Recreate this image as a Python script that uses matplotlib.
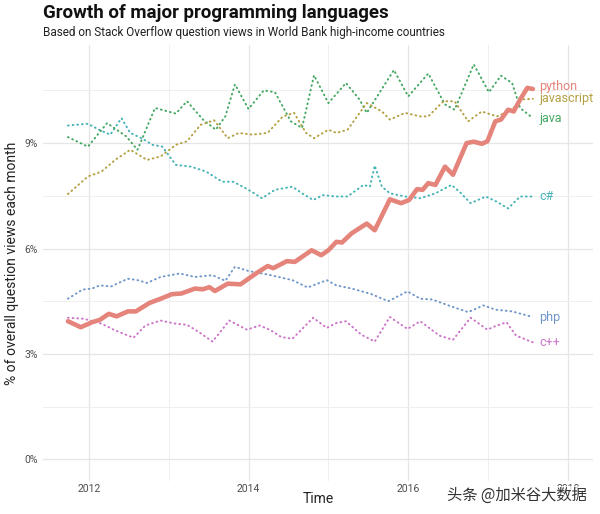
import matplotlib
matplotlib.use("Agg")
import matplotlib.pyplot as plt

# --- data (decimal year, % of question views) ---
python_t = [2011.74, 2011.90, 2012.04, 2012.14, 2012.25, 2012.35, 2012.49, 2012.59, 2012.76, 2012.90,
            2013.04, 2013.16, 2013.33, 2013.43, 2013.51, 2013.58, 2013.74, 2013.90, 2014.00, 2014.10,
            2014.24, 2014.31, 2014.48, 2014.58, 2014.79, 2014.91, 2015.00, 2015.10, 2015.17, 2015.29,
            2015.48, 2015.58, 2015.77, 2015.91, 2016.01, 2016.11, 2016.18, 2016.25, 2016.34, 2016.46,
            2016.56, 2016.73, 2016.82, 2016.92, 2016.99, 2017.09, 2017.16, 2017.25, 2017.32, 2017.40,
            2017.49, 2017.56]
python_v = [3.93, 3.76, 3.90, 3.97, 4.14, 4.07, 4.21, 4.21, 4.45, 4.57,
            4.70, 4.72, 4.86, 4.84, 4.90, 4.79, 5.00, 4.98, 5.14, 5.30,
            5.50, 5.44, 5.64, 5.62, 5.95, 5.81, 5.95, 6.19, 6.17, 6.43,
            6.71, 6.52, 7.40, 7.29, 7.38, 7.69, 7.67, 7.86, 7.81, 8.33,
            8.10, 9.00, 9.04, 8.98, 9.05, 9.62, 9.67, 9.95, 9.90, 10.24,
            10.57, 10.54]

javascript_t = [2011.74, 2011.99, 2012.16, 2012.33, 2012.52, 2012.73, 2012.90, 2013.09, 2013.23, 2013.40,
                2013.57, 2013.74, 2013.88, 2014.05, 2014.24, 2014.43, 2014.57, 2014.72, 2014.82, 2015.00,
                2015.10, 2015.24, 2015.48, 2015.67, 2015.77, 2015.96, 2016.15, 2016.25, 2016.44, 2016.58,
                2016.75, 2016.92, 2017.11, 2017.30, 2017.40, 2017.56]
javascript_v = [7.55, 8.05, 8.19, 8.52, 8.81, 8.52, 8.62, 8.95, 9.05, 9.52,
                9.65, 9.14, 9.29, 9.24, 9.29, 9.76, 9.86, 9.29, 9.14, 9.38,
                9.29, 9.38, 10.14, 9.90, 9.67, 9.86, 9.76, 9.76, 10.19, 10.19,
                9.62, 9.90, 9.76, 9.95, 10.24, 10.26]

java_t = [2011.74, 2011.99, 2012.23, 2012.47, 2012.61, 2012.83, 2013.09, 2013.23, 2013.43, 2013.59,
          2013.71, 2013.83, 2014.00, 2014.19, 2014.33, 2014.53, 2014.67, 2014.82, 2015.00, 2015.22,
          2015.39, 2015.48, 2015.82, 2016.00, 2016.25, 2016.46, 2016.58, 2016.82, 2017.01, 2017.16,
          2017.30, 2017.40, 2017.56]
java_v = [9.17, 8.90, 9.57, 9.19, 8.81, 10.00, 9.84, 10.19, 9.67, 9.38,
          9.76, 10.67, 9.97, 10.50, 10.45, 9.62, 9.43, 10.93, 10.14, 10.71,
          10.24, 9.86, 11.08, 10.33, 10.98, 10.10, 9.95, 11.24, 10.45, 10.92,
          10.71, 10.00, 9.71]

csharp_t = [2011.74, 2011.99, 2012.13, 2012.27, 2012.41, 2012.52, 2012.66, 2012.80, 2012.92, 2013.09,
            2013.28, 2013.47, 2013.67, 2013.81, 2014.00, 2014.17, 2014.33, 2014.55, 2014.67, 2014.81,
            2014.93, 2015.10, 2015.24, 2015.44, 2015.52, 2015.58, 2015.67, 2015.77, 2015.96, 2016.15,
            2016.34, 2016.54, 2016.64, 2016.78, 2016.97, 2017.11, 2017.25, 2017.40, 2017.56]
csharp_v = [9.50, 9.55, 9.38, 9.24, 9.71, 9.29, 9.14, 8.95, 8.90, 8.38,
            8.33, 8.19, 7.90, 7.90, 7.67, 7.43, 7.67, 7.76, 7.57, 7.38,
            7.52, 7.48, 7.48, 7.81, 7.76, 8.36, 7.76, 7.57, 7.48, 7.43,
            7.57, 7.81, 7.62, 7.29, 7.48, 7.33, 7.14, 7.48, 7.48]

php_t = [2011.74, 2011.92, 2012.04, 2012.14, 2012.28, 2012.49, 2012.61, 2012.73, 2012.90, 2013.14,
         2013.33, 2013.55, 2013.71, 2013.83, 2014.00, 2014.24, 2014.55, 2014.74, 2014.98, 2015.10,
         2015.29, 2015.53, 2015.75, 2015.99, 2016.15, 2016.30, 2016.54, 2016.75, 2016.94, 2017.09,
         2017.30, 2017.56]
php_v = [4.57, 4.83, 4.86, 4.95, 4.92, 5.14, 5.10, 5.02, 5.19, 5.29,
         5.19, 5.24, 5.08, 5.48, 5.36, 5.26, 5.10, 4.89, 5.10, 4.95,
         4.86, 4.71, 4.50, 4.78, 4.57, 4.55, 4.35, 4.19, 4.38, 4.26,
         4.21, 4.05]

cpp_t = [2011.74, 2011.94, 2012.16, 2012.33, 2012.56, 2012.71, 2012.90, 2013.09, 2013.23, 2013.38,
         2013.55, 2013.76, 2013.98, 2014.14, 2014.28, 2014.41, 2014.55, 2014.81, 2014.98, 2015.10,
         2015.22, 2015.41, 2015.58, 2015.77, 2015.99, 2016.15, 2016.39, 2016.56, 2016.78, 2016.99,
         2017.09, 2017.23, 2017.35, 2017.56]
cpp_v = [4.03, 4.00, 3.86, 3.67, 3.46, 3.81, 3.95, 3.86, 3.83, 3.62,
         3.35, 3.95, 3.69, 3.81, 3.67, 3.48, 3.43, 4.03, 3.74, 3.88,
         3.93, 3.55, 3.35, 4.05, 3.71, 3.93, 3.52, 3.40, 4.03, 3.69,
         3.79, 3.90, 3.52, 3.33]

languages = ["python", "javascript", "java", "c#", "php", "c++"]
colors = ["#E5847B", "#B4A042", "#45A862", "#45B3B7", "#6F96C8", "#CC74C8"]
label_y = [10.62, 10.26, 9.71, 7.48, 4.05, 3.33]
series = [(python_t, python_v), (javascript_t, javascript_v), (java_t, java_v),
          (csharp_t, csharp_v), (php_t, php_v), (cpp_t, cpp_v)]

plt.rcParams['font.family'] = ['Roboto', 'DejaVu Sans']

fig = plt.figure(figsize=(6.0, 5.14), dpi=100)
ax = fig.add_axes([0.072, 0.064, 0.916, 0.849])

for i in range(len(languages) - 1, -1, -1):
    t, v = series[i]
    if languages[i] == "python":
        ax.plot(t, v, color=colors[i], lw=3.3, solid_capstyle='round',
                solid_joinstyle='round', zorder=5)
    else:
        # dotted, like ggplot's lty = "dotted"
        ax.plot(t, v, color=colors[i], lw=1.4, dashes=(0.4, 2.0),
                dash_capstyle='round', zorder=3)
    ax.text(2017.64, label_y[i], languages[i], color=colors[i], fontsize=9,
            ha='left', va='center', zorder=6)

ax.set_xlim(2011.43, 2018.31)
ax.set_ylim(-0.62, 11.8)
ax.set_xticks([2012, 2014, 2016, 2018])
ax.set_xticks([2013, 2015, 2017], minor=True)
ax.set_xticklabels(["2012", "2014", "2016", "2018"])
ax.set_yticks([0, 3, 6, 9])
ax.set_yticks([1.5, 4.5, 7.5, 10.5], minor=True)
ax.set_yticklabels(["0%", "3%", "6%", "9%"])

ax.grid(True, which='major', color='#e6e6e6', lw=0.9)
ax.grid(True, which='minor', color='#efefef', lw=0.7)
ax.set_axisbelow(True)
for s in ax.spines.values():
    s.set_visible(False)
ax.tick_params(which='both', length=0, labelsize=7.5, labelcolor='#4d4d4d')
ax.tick_params(axis='x', pad=2)
ax.tick_params(axis='y', pad=4)

ax.set_xlabel("Time", fontsize=10, color='#222222')
ax.xaxis.set_label_coords(0.5, -0.042)
ax.xaxis.label.set_va('center')
ax.set_ylabel("% of overall question views each month", fontsize=10,
              color='#222222', labelpad=4)

fig.text(0.072, 0.975, "Growth of major programming languages", fontsize=13.5,
         fontweight='bold', color='#111111', ha='left', va='center')
fig.text(0.072, 0.936, "Based on Stack Overflow question views in World Bank high-income countries",
         fontsize=8.5, color='#222222', ha='left', va='center')

fig.text(0.745, 0.036, "头条 @加米谷大数据", fontsize=11, color='#333333',
         family=['Noto Sans CJK SC', 'DejaVu Sans'], ha='left', va='center',
         bbox=dict(facecolor='white', edgecolor='none', alpha=0.75, pad=1))

fig.savefig("out.png", dpi=100, facecolor='white')
